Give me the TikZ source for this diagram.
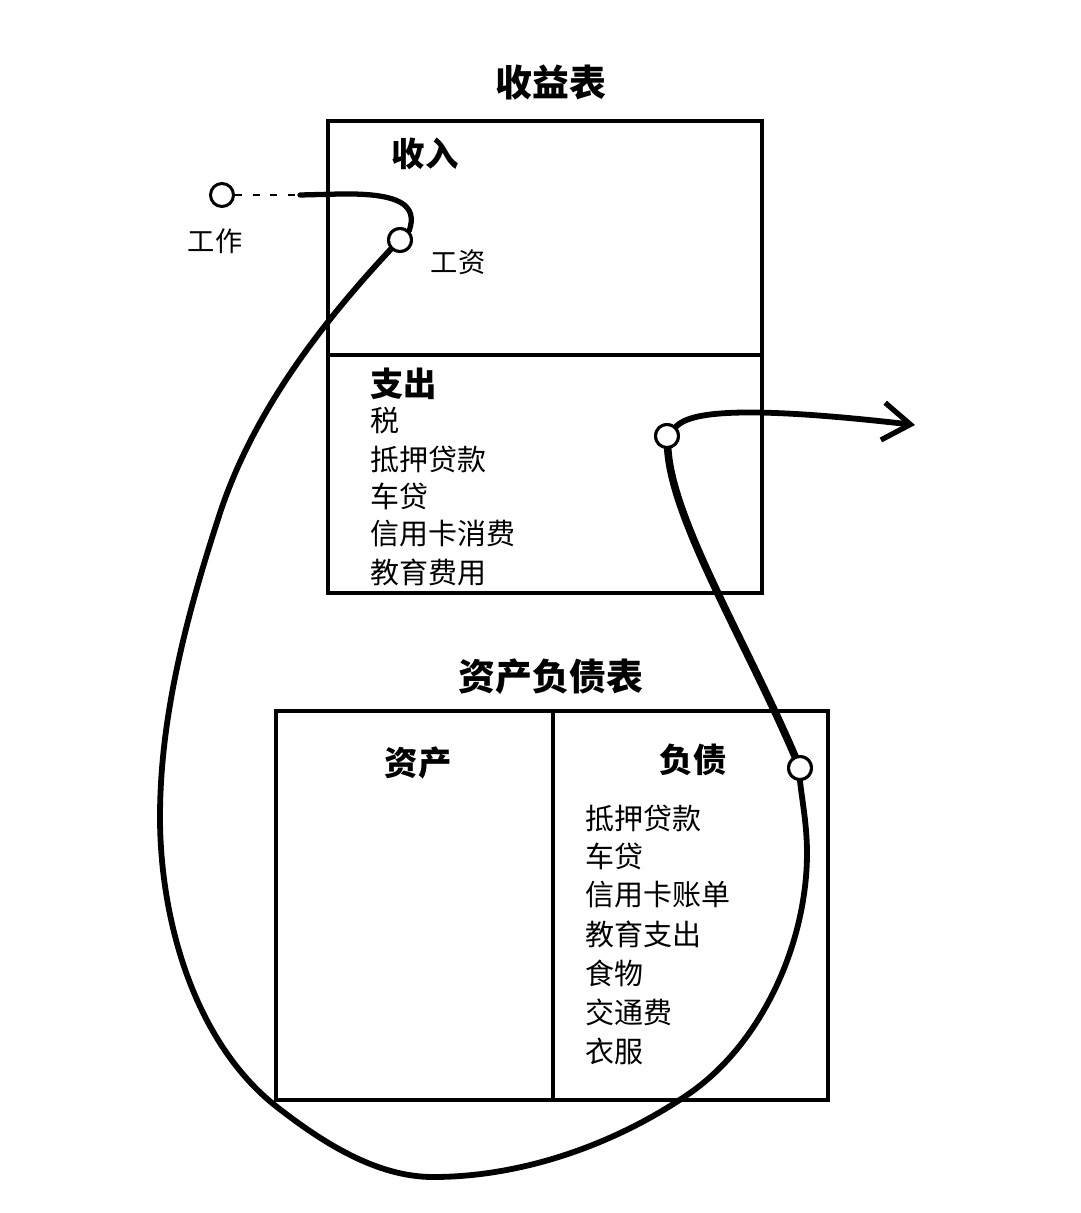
\documentclass[tikz,border=0pt]{standalone}
\usepackage{fontspec}
\newfontfamily\cjk{Noto Sans CJK SC}
\usetikzlibrary{arrows.meta}
\begin{document}
\begin{tikzpicture}[x=0.02cm,y=-0.02cm,
  box/.style={draw=black,line width=2.3pt},
  title/.style={font=\cjk\bfseries\fontsize{21}{24}\selectfont,inner sep=0pt},
  head/.style={font=\cjk\bfseries\fontsize{19}{22}\selectfont,inner sep=0pt},
  item/.style={font=\cjk\fontsize{16.5}{20}\selectfont,inner sep=0pt,anchor=west},
  lbl/.style={font=\cjk\fontsize{15.5}{18}\selectfont,inner sep=0pt},
  dot/.style={circle,draw=black,fill=white,line width=1.7pt,minimum size=0.46cm,inner sep=0pt},
  flow/.style={line width=3.3pt,line cap=round}]
\useasboundingbox (0,0) rectangle (1080,1213);
\fill[white] (0,0) rectangle (1080,1213);
% income statement
\node[title] (t1) at (551,83) {收益表};
\draw[box] (328,121) rectangle (762,593);
\draw[box] (328,355) -- (762,355);
\node[head] (inc) at (425,154) {收入};
\node[head,anchor=west] (exph) at (370,384) {支出};
\node[item] (e1) at (370,421) {税};
\node[item] (e2) at (370,459) {抵押贷款};
\node[item] (e3) at (370,496) {车贷};
\node[item] (e4) at (370,534) {信用卡消费};
\node[item] (e5) at (370,572) {教育费用};
% balance sheet
\node[title] (t2) at (551,677) {资产负债表};
\draw[box] (276,711) rectangle (828,1100);
\draw[box] (553,711) -- (553,1100);
\node[head] (ast) at (418,763) {资产};
\node[head] (lia) at (693,760) {负债};
\node[item] (l1) at (585,818) {抵押贷款};
\node[item] (l2) at (585,856) {车贷};
\node[item] (l3) at (585,895) {信用卡账单};
\node[item] (l4) at (585,934) {教育支出};
\node[item] (l5) at (585,973) {食物};
\node[item] (l6) at (585,1012) {交通费};
\node[item] (l7) at (585,1051) {衣服};
% flow
\node[lbl] (workl) at (215,241) {工作};
\node[lbl] (wagel) at (458,262) {工资};
\node[dot] (work) at (222,195) {};
\node[dot] (wage) at (400,240) {};
\node[dot] (expd) at (667,436) {};
\node[dot] (liab) at (800,768) {};
\coordinate (tip) at (915,425);
\coordinate (sw) at (300,195);
\draw[line width=1.5pt,dash pattern=on 4pt off 6pt] (work) -- (sw);
\draw[flow,line width=3pt] (sw) -- (340,194) .. controls (400,193) and (418,205) .. (wage.north east);
\draw[flow] (wage.225) .. controls (320,325) and (253,413) .. (220,513)
  .. controls (188,611) and (160,714) .. (160,817)
  .. controls (160,921) and (195,1043) .. (277,1107)
  .. controls (322,1142) and (376,1177) .. (433,1177)
  .. controls (523,1177) and (616,1144) .. (690,1093)
  .. controls (763,1042) and (807,942) .. (807,853)
  .. controls (807,825) and (802,800) .. (liab.south);
\draw[flow,line width=4.3pt] (liab) .. controls (745,640) and (672,520) .. (expd);
\draw[flow,-{Straight Barb[length=0.55cm,width=0.75cm,line width=3pt]}] (expd) .. controls (690,412) and (740,405) .. (tip);
% redraw dots on top
\node[dot] at (wage) {};
\node[dot] at (expd) {};
\node[dot] at (liab) {};
\end{tikzpicture}
\end{document}
